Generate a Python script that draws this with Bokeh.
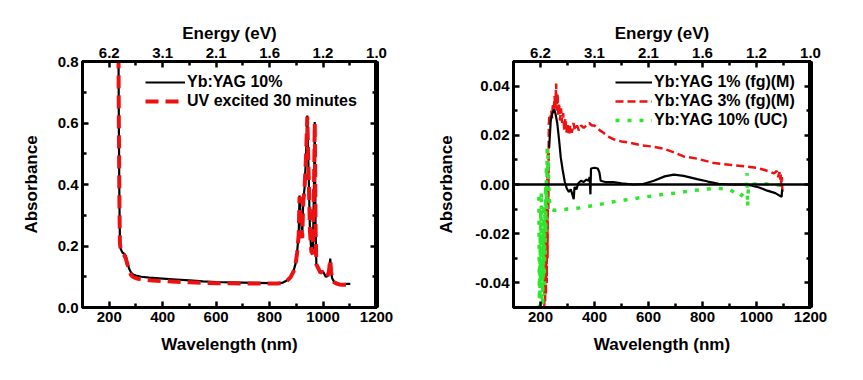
from bokeh.plotting import figure
from bokeh.layouts import row
from bokeh.models import (LinearAxis, FixedTicker, Span, Legend, LegendItem,
                          PrintfTickFormatter, Range1d)
from bokeh.embed import file_html
from bokeh.resources import INLINE

# ---------------- data ----------------
# top-axis (energy) tick labels placed at wavelength ticks
tick_nm = [200, 400, 600, 800, 1000, 1200]
energy_labels = ["6.2", "3.1", "2.1", "1.6", "1.2", "1.0"]
minor_nm = [100, 300, 500, 700, 900, 1100]

# left panel: Yb:YAG 10%
wl_10 = [234, 236, 238, 240, 243, 250, 256, 262, 268, 275, 282, 290, 300, 320, 350,
         400, 450, 500, 550, 600, 650, 700, 750, 800, 830, 850, 865, 878, 890, 897,
         903, 909, 912, 916, 922, 926, 931, 937, 941, 947, 951, 956, 962, 967, 969,
         972, 975, 982, 990, 997, 1003, 1010, 1016, 1022, 1027, 1030, 1034, 1040, 1050, 1060,
         1075, 1090, 1102]
abs_10 = [0.95, 0.6, 0.35, 0.22, 0.19, 0.178, 0.175, 0.168, 0.145, 0.125, 0.113, 0.107, 0.104, 0.1, 0.097,
          0.094, 0.091, 0.088, 0.085, 0.083, 0.082, 0.081, 0.08, 0.079, 0.079, 0.081, 0.088, 0.099, 0.12, 0.142,
          0.18, 0.24, 0.364, 0.305, 0.229, 0.348, 0.391, 0.51, 0.624, 0.402, 0.25, 0.185, 0.175, 0.456, 0.603,
          0.261, 0.142, 0.13, 0.115, 0.118, 0.112, 0.1, 0.102, 0.12, 0.159, 0.12, 0.095, 0.085, 0.08, 0.077,
          0.076, 0.077, 0.077]

# left panel: UV excited 30 minutes
wl_uv = [234, 236, 238, 240, 243, 250, 256, 262, 268, 275, 282, 290, 300, 320, 350,
         400, 450, 500, 550, 600, 650, 700, 750, 800, 830, 850, 865, 878, 890, 897,
         903, 909, 912, 916, 922, 926, 931, 937, 941, 947, 951, 956, 962, 967, 969,
         972, 975, 982, 990, 997, 1003, 1010, 1016, 1022, 1027, 1030, 1034, 1040, 1050, 1060,
         1075, 1090, 1102]
abs_uv = [0.95, 0.6, 0.35, 0.21, 0.185, 0.175, 0.17, 0.16, 0.14, 0.12, 0.105, 0.099, 0.095, 0.091, 0.089,
          0.086, 0.084, 0.082, 0.08, 0.079, 0.079, 0.078, 0.078, 0.078, 0.078, 0.08, 0.087, 0.098, 0.118, 0.14,
          0.178, 0.238, 0.36, 0.3, 0.225, 0.345, 0.39, 0.505, 0.62, 0.4, 0.248, 0.183, 0.173, 0.45, 0.6,
          0.258, 0.14, 0.128, 0.113, 0.116, 0.11, 0.099, 0.1, 0.118, 0.156, 0.118, 0.093, 0.083, 0.078, 0.075,
          0.074, 0.074, 0.074]

# right panel: Yb:YAG 1% (fg)(M)
wl_1 = [232, 238, 244, 250, 255, 262, 268, 275, 282, 290, 297, 305, 312, 318, 323,
        326, 333, 340, 350, 360, 370, 378, 382, 385, 387, 400, 412, 418, 423, 440,
        470, 500, 544, 580, 620, 660, 694, 730, 780, 820, 860, 900, 950, 980, 1010,
        1040, 1070, 1085, 1093, 1095]
abs_1 = [0.015, 0.026, 0.029, 0.0305, 0.029, 0.025, 0.019, 0.011, 0.006, 0.001, -0.0015, -0.003, -0.002, -0.004, -0.006,
         -0.001, -0.002, 0.0005, 0.0015, 0.001, 0.002, 0.0015, 0.003, -0.004, 0.0065, 0.0068, 0.0065, 0.005, 0.0015, 0.001,
         0.001, 0.0005, 0.0, 0.0002, 0.0015, 0.0033, 0.004, 0.0035, 0.0022, 0.0012, 0.0003, 0.0, 0.0, -0.0004, -0.0012,
         -0.0025, -0.0035, -0.0045, -0.005, -0.002]

# right panel: Yb:YAG 3% (fg)(M)
wl_3 = [214, 216, 217, 219, 220, 222, 223, 225, 226, 228, 229, 231, 233, 236, 240,
        243, 246, 249, 252, 255, 258, 260, 263, 266, 269, 272, 276, 280, 284, 288,
        292, 296, 300, 305, 310, 316, 322, 328, 335, 342, 350, 360, 370, 380, 390,
        400, 410, 420, 433, 450, 470, 500, 530, 569, 607, 655, 700, 730, 780, 843,
        900, 966, 1000, 1027, 1050, 1065, 1075, 1080, 1085, 1088, 1090, 1092, 1094, 1096]
abs_3 = [-0.05, -0.02, -0.048, -0.01, -0.045, -0.005, -0.04, 0.005, -0.03, 0.015, -0.01, 0.025, 0.028, 0.026, 0.03,
         0.027, 0.033, 0.029, 0.036, 0.031, 0.041, 0.03, 0.037, 0.028, 0.033, 0.026, 0.031, 0.025, 0.029, 0.022,
         0.027, 0.021, 0.025, 0.02, 0.024, 0.021, 0.025, 0.022, 0.024, 0.022, 0.024, 0.023, 0.024, 0.025, 0.024,
         0.024, 0.023, 0.022, 0.021, 0.0195, 0.0184, 0.0175, 0.017, 0.016, 0.0155, 0.0146, 0.0128, 0.0114, 0.0105, 0.0087,
         0.008, 0.0073, 0.0068, 0.006, 0.0052, 0.0045, 0.0055, 0.003, 0.005, 0.002, 0.004, -0.001, 0.003, -0.003]

# right panel: Yb:YAG 10% (UC)
wl_uc = [194, 196, 197, 198, 199, 200, 201, 202, 203, 204, 205, 206, 207, 208, 210, 211,
         213, 214, 216, 217, 219, 220, 222, 223, 225, 226, 228, 230, 233, 236, 250,
         274, 300, 347, 410, 470, 530, 593, 655, 700, 760, 820, 853, 900, 915, 935,
         940, 955, 963, 965, 967, 970, 977, 1000, 1026, 1060, 1094]
abs_uc = [-0.005, -0.05, -0.03, -0.045, -0.02, -0.04, -0.01, -0.035, -0.003, -0.048, -0.025, -0.042, -0.015, -0.05, -0.02, -0.038,
          -0.008, -0.045, -0.012, -0.03, 0.0, -0.02, 0.008, -0.01, 0.016, 0.005, 0.012, 0.0, -0.006, -0.0097, -0.0105,
          -0.0103, -0.01, -0.0095, -0.0083, -0.007, -0.006, -0.005, -0.004, -0.0035, -0.0025, -0.0018, -0.0015, -0.002, -0.003, -0.0045,
          -0.005, -0.003, -0.001, 0.0046, -0.009, -0.001, 0.0, 0.0002, 0.0003, 0.0, -0.0004]

FONT = "Liberation Sans"
RED = "#ee1111"
GREEN = "#2ee62e"


def style_ticks(ax, ticker):
    ax.ticker = ticker
    ax.axis_line_width = 3
    ax.major_tick_in = 6
    ax.major_tick_out = 0
    ax.minor_tick_in = 4
    ax.minor_tick_out = 0
    ax.major_tick_line_width = 2.5
    ax.minor_tick_line_width = 2.5


def style_text(ax):
    ax.major_label_text_font = FONT
    ax.major_label_text_font_style = "bold"
    ax.major_label_text_font_size = "15px"
    ax.major_label_text_color = "black"
    ax.major_label_standoff = 4
    ax.axis_label_text_font = FONT
    ax.axis_label_text_font_style = "bold"
    ax.axis_label_text_font_size = "17px"
    ax.axis_label_text_color = "black"


def make_panel(width, yrange, yticks, yminor, yfmt, min_left, min_right, ylab_standoff):
    p = figure(width=width, height=378,
               x_range=Range1d(100, 1200), y_range=Range1d(*yrange),
               output_backend="svg", toolbar_location=None,
               min_border_left=min_left, min_border_right=min_right,
               min_border_top=61, min_border_bottom=71)
    p.grid.visible = False
    p.outline_line_color = "black"
    p.outline_line_width = 3

    xb = p.xaxis[0]
    style_ticks(xb, FixedTicker(ticks=tick_nm, minor_ticks=minor_nm))
    style_text(xb)
    xb.axis_label = "Wavelength (nm)"
    xb.axis_label_standoff = 10

    yl = p.yaxis[0]
    style_ticks(yl, FixedTicker(ticks=yticks, minor_ticks=yminor))
    style_text(yl)
    yl.formatter = PrintfTickFormatter(format=yfmt)
    yl.axis_label = "Absorbance"
    yl.axis_label_standoff = ylab_standoff

    top = LinearAxis()
    style_ticks(top, FixedTicker(ticks=tick_nm, minor_ticks=minor_nm))
    style_text(top)
    top.major_label_overrides = {t: lab for t, lab in zip(tick_nm, energy_labels)}
    top.axis_label = "Energy (eV)"
    top.axis_label_standoff = 2
    p.add_layout(top, "above")

    # mirrored right axis: ticks only (blank labels)
    right = LinearAxis()
    style_ticks(right, FixedTicker(ticks=yticks, minor_ticks=yminor))
    right.axis_line_width = 5
    right.major_label_overrides = {t: " " for t in yticks}
    p.add_layout(right, "right")
    return p


def style_legend(lg):
    lg.border_line_color = None
    lg.background_fill_alpha = 0
    lg.label_text_font = FONT
    lg.label_text_font_style = "bold"
    lg.label_text_font_size = "16px"
    lg.label_text_color = "black"
    lg.glyph_width = 40
    lg.glyph_height = 18
    lg.label_height = 18
    lg.label_standoff = 2
    lg.spacing = 1
    lg.padding = 0
    lg.margin = 0


# ---------------- left panel ----------------
p1 = make_panel(430, (0, 0.8), [0.0, 0.2, 0.4, 0.6, 0.8], [0.1, 0.3, 0.5, 0.7], "%.1f", 82, 54, 14)
r_a = p1.line(wl_10, abs_10, line_color="black", line_width=2.2)
r_b = p1.line(wl_uv, abs_uv, line_color=RED, line_width=4, line_dash="13 7")
lg1 = Legend(items=[LegendItem(label="Yb:YAG 10%", renderers=[r_a]),
                    LegendItem(label="UV excited 30 minutes", renderers=[r_b])],
             location=(63, 197))
style_legend(lg1)
p1.add_layout(lg1)

# ---------------- right panel ----------------
p2 = make_panel(431, (-0.05, 0.05), [-0.04, -0.02, 0.0, 0.02, 0.04], [-0.05, -0.03, -0.01, 0.01, 0.03, 0.05],
                "%.2f", 83, 51, 16)
p2.add_layout(Span(location=0, dimension="width", line_color="black", line_width=2.5))
r_3 = p2.line(wl_3, abs_3, line_color=RED, line_width=2.5, line_dash="8 4")
r_1 = p2.line(wl_1, abs_1, line_color="black", line_width=2.2)
r_uc = p2.line(wl_uc, abs_uc, line_color=GREEN, line_width=3.5, line_dash="4 8")
lg2 = Legend(items=[LegendItem(label="Yb:YAG 1% (fg)(M)", renderers=[r_1]),
                    LegendItem(label="Yb:YAG 3% (fg)(M)", renderers=[r_3]),
                    LegendItem(label="Yb:YAG 10% (UC)", renderers=[r_uc])],
             location=(102, 178))
style_legend(lg2)
lg2.glyph_width = 37
p2.add_layout(lg2)

layout = row(p1, p2)
open("out.html", "w").write(file_html(layout, INLINE))
